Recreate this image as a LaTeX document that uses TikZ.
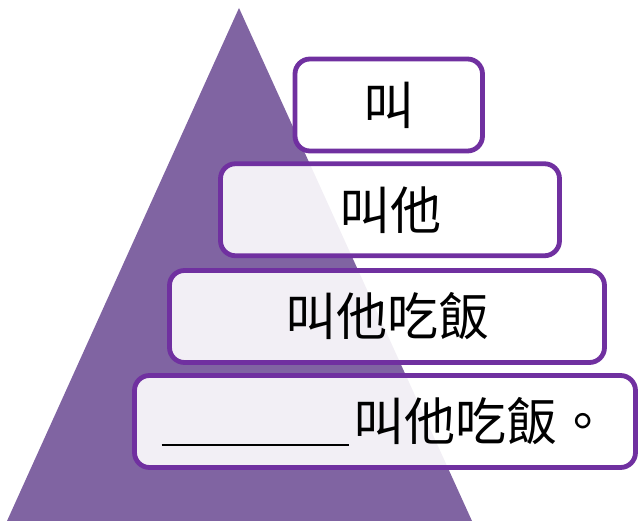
\documentclass[tikz,border=0pt]{standalone}
\usepackage{fontspec}
\newfontfamily\cjk{Noto Sans CJK TC}
\definecolor{pyramid}{HTML}{8064A2}
\definecolor{rim}{HTML}{7030A0}

\begin{document}
\begin{tikzpicture}[x=1pt,y=-1pt,
  font=\cjk\fontsize{51}{55}\selectfont,
  level/.style={draw=rim,line width=4.8pt,rounded corners=15pt,
    fill=white,fill opacity=0.9,text opacity=1,
    minimum height=92pt,inner sep=0pt}]

\useasboundingbox (0,0) rectangle (638,521);

%draw pyramid
    \fill[pyramid] (239,8) -- (472,521) -- (7,521) -- cycle;

%draw levels, top to bottom
    \node[level,minimum width=187.5pt] (one)   at (388.75,105)  {叫};
    \node[level,minimum width=339pt]   (two)   at (390,209.75)  {叫他};
    \node[level,minimum width=435pt]   (three) at (387,316.5)   {叫他吃飯};
    \node[level,minimum width=501pt]   (four)  at (385,421.5)
      {\rule[-0.1em]{187pt}{1.5pt}\hspace{5pt}叫他吃飯。};

\end{tikzpicture}
\end{document}
